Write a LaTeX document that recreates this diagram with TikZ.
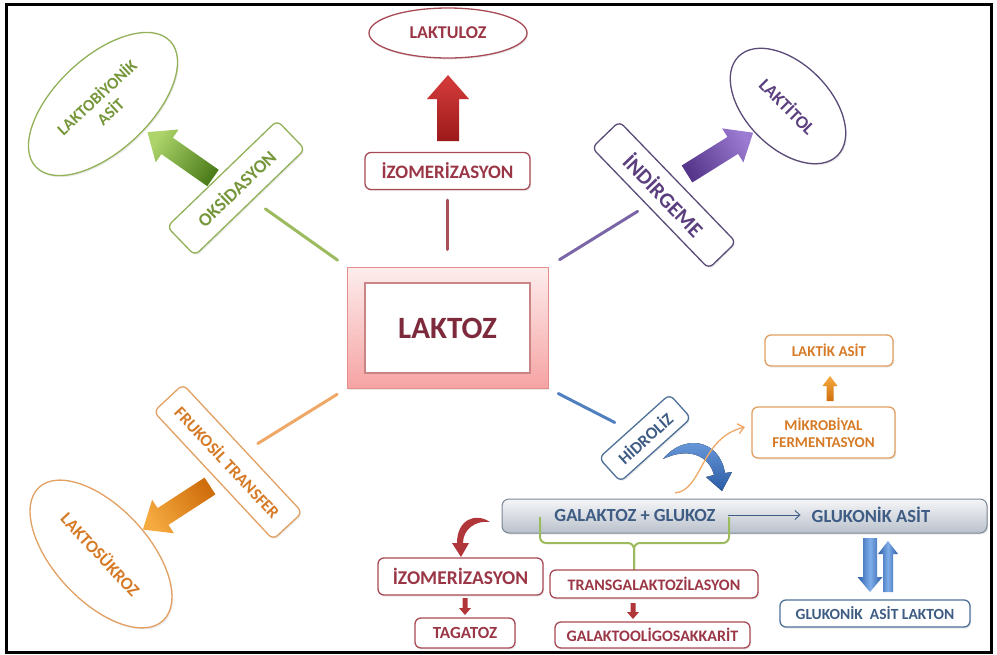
\documentclass[tikz,border=0pt]{standalone}
\usepackage{fontspec}
\setmainfont{Carlito}
\usetikzlibrary{shapes.geometric,arrows.meta,calc,shadows}
\definecolor{marb}{HTML}{A84A55}\definecolor{mart}{HTML}{9A3646}\definecolor{marl}{HTML}{A8505A}
\definecolor{redh}{HTML}{D63C3C}\definecolor{redd}{HTML}{9C1A1A}\definecolor{redc}{HTML}{B0363A}
\definecolor{grnb}{HTML}{92B158}\definecolor{grnt}{HTML}{76963A}\definecolor{grnl}{HTML}{9CBB5E}
\definecolor{grnh}{HTML}{ACD46A}\definecolor{grnd}{HTML}{4E7E1C}
\definecolor{purb}{HTML}{5B4B78}\definecolor{purt}{HTML}{5C3F7E}\definecolor{purl}{HTML}{7A66A6}
\definecolor{purh}{HTML}{9C7CD2}\definecolor{purd}{HTML}{56368A}
\definecolor{orb}{HTML}{E2A062}\definecolor{ort}{HTML}{D67A26}\definecolor{orl}{HTML}{F0A868}
\definecolor{orh}{HTML}{F5AA40}\definecolor{ord}{HTML}{CF6E0C}
\definecolor{blb}{HTML}{4E7099}\definecolor{blt}{HTML}{3E5C84}\definecolor{bll}{HTML}{5080BF}
\definecolor{blc}{HTML}{3B70B8}\definecolor{bld}{HTML}{2A5CA6}\definecolor{blm}{HTML}{80AEEA}
\definecolor{barb}{HTML}{7A8696}\definecolor{bart}{HTML}{F5F6F8}\definecolor{barbt}{HTML}{BAC1CB}
\definecolor{lkb}{HTML}{E58C8C}\definecolor{lkt}{HTML}{FDEDED}\definecolor{lkbt}{HTML}{F6A3A3}
\definecolor{lkin}{HTML}{C98585}\definecolor{lktxt}{HTML}{7D2B3C}
\newcommand\fsz[1]{\fontsize{#1}{\fpeval{1.2*#1}}\selectfont\bfseries}
\newcommand\bpt[3]{\coordinate (#1) at ({\baX+(#2)*cos(\baA)+(#3)*sin(\baA)},{\baY-(#2)*sin(\baA)+(#3)*cos(\baA)});}
\newcommand\barrow[8]{\def\baX{#1}\def\baY{#2}\def\baA{#3}%
\bpt{ba1}{0}{-#5}\bpt{ba2}{#4-#7}{-#5}\bpt{ba3}{#4-#7}{-#6}\bpt{ba4}{#4}{0}\bpt{ba5}{#4-#7}{#6}\bpt{ba6}{#4-#7}{#5}\bpt{ba7}{0}{#5}%
\path[#8] (ba1)--(ba2)--(ba3)--(ba4)--(ba5)--(ba6)--(ba7)--cycle;}
\begin{document}
\begin{tikzpicture}[x=1pt,y=-1pt,
  shad/.style={drop shadow={opacity=0.16, shadow xshift=1.2pt, shadow yshift=-1.6pt}},
  rbox/.style={draw, rounded corners=6pt, fill=white, line width=1.3pt, inner sep=0pt, align=center, shad},
  ell/.style={ellipse, draw, fill=white, line width=1.3pt, inner sep=0pt, align=center, shad},
  conn/.style={line width=3pt, line cap=round}]
\useasboundingbox (0,0) rectangle (997,654);
\fill[white] (0,0) rectangle (997,654);
\draw[line width=3pt] (6,4) rectangle (991.5,652);

% center
\node[draw=lkb, line width=1pt, top color=lkt, bottom color=lkbt, minimum width=201pt, minimum height=121pt, shad] (laktoz) at (447.5,327.5) {};
\node[draw=lkin, line width=1.2pt, fill=white, minimum width=165pt, minimum height=90pt, text=lktxt, font=\fsz{31}] (laktozin) at (447.5,328) {LAKTOZ};

% top branch
\node[ell, draw=marb, minimum width=158pt, minimum height=50pt, text=mart, font=\fsz{18}] (laktuloz) at (448,33) {LAKTULOZ};
\node[rbox, draw=marb, text=mart, minimum width=165pt, minimum height=37pt, font=\fsz{19}] (izo1) at (447.5,171) {İZOMERİZASYON};
\draw[conn, draw=marl, shorten <=29pt, shorten >=17pt] (izo1.center) -- (laktoz.north);
\barrow{448}{141}{90}{66}{11}{21}{24}{top color=redh, bottom color=redd}

% green branch
\node[rbox, draw=grnb, text=grnt, rotate=44, minimum width=153pt, minimum height=40pt, font=\fsz{18.5}] (oks) at (236,188) {OKSİDASYON};
\draw[conn, draw=grnl, shorten <=36pt, shorten >=11pt] (oks.center) -- (laktoz.north west);
\node[ell, draw=grnb, rotate=43, minimum width=184pt, minimum height=94pt, text=grnt, font=\fsz{16.5}] (lbio) at (103,104) {LAKTOBİYONİK\\ASİT};
\barrow{213}{178}{145}{80}{10}{20}{24}{top color=grnh, bottom color=grnd, shading angle=55}

% purple branch
\node[rbox, draw=purb, text=purt, rotate=-46, minimum width=168pt, minimum height=38pt, font=\fsz{21.5}] (indir) at (664,195) {İNDİRGEME};
\draw[conn, draw=purl, shorten <=31pt, shorten >=13pt] (indir.center) -- (laktoz.north east);
\node[ell, draw=purb, rotate=-45, minimum width=140pt, minimum height=84pt, text=purt, font=\fsz{18}] (laktitol) at (788,106) {LAKTİTOL};
\barrow{687}{174}{32}{78}{10}{20}{24}{top color=purh, bottom color=purd, shading angle=-58}

% orange branch
\node[rbox, draw=orb, text=ort, rotate=-47, minimum width=175pt, minimum height=40pt, font=\fsz{17}] (fruk) at (228,462) {FRUKOSİL TRANSFER};
\draw[conn, draw=orl, shorten <=35pt, shorten >=11pt] (fruk.center) -- (laktoz.south west);
\node[ell, draw=orb, rotate=-47, minimum width=182pt, minimum height=94pt, text=ort, font=\fsz{17.5}] (laktosuk) at (101,554) {LAKTOSÜKROZ};
\barrow{210}{486}{213}{80}{10}{20}{24}{top color=orh, bottom color=ord, shading angle=123}

% blue branch
\node[rbox, draw=blb, text=blt, rotate=42, minimum width=95pt, minimum height=32pt, font=\fsz{17}] (hidro) at (645,438) {HİDROLİZ};
\draw[conn, draw=bll, shorten <=34pt, shorten >=11pt] (hidro.center) -- (laktoz.south east);

% fermentation
\node[rbox, draw=orb, text=ort, minimum width=143pt, minimum height=51pt, font=\fsz{15}] (mikro) at (823.5,432.5) {MİKROBİYAL\\[-1pt]FERMENTASYON};
\node[rbox, draw=orb, text=ort, minimum width=128pt, minimum height=31pt, font=\fsz{15}] (laktik) at (829,350.5) {LAKTİK ASİT};
\barrow{830}{401}{90}{25}{3.5}{7.5}{10}{top color=orh, bottom color=ord}

% bar
\node[draw=barb, rounded corners=7pt, top color=bart, bottom color=barbt, line width=1pt, minimum width=485pt, minimum height=34pt, shad] (bar) at (744.5,516) {};
\node[text=blt, font=\fsz{18.5}, inner sep=0pt] (galglu) at (635,515) {GALAKTOZ + GLUKOZ};
\node[text=blt, font=\fsz{18.5}, inner sep=0pt] (glukasit) at (871,515) {GLUKONİK ASİT};
\draw[blt, line width=0.9pt, -{Straight Barb[length=5pt,width=9pt]}, shorten <=12pt, shorten >=11pt] (galglu.east) -- (glukasit.west);

% curved arrows
\coordinate (cb1) at (663,459);
\fill[top color=blm!80!blc, bottom color=bld] (cb1) .. controls (683,434) and (719,438) .. (725,473) -- (732,472) -- (722,491) -- (706,477) -- (714,475) .. controls (709,455) and (688,447) .. (cb1) -- cycle;
\coordinate (os1) at (675,493);
\coordinate (os2) at (745,427);
\draw[orl, line width=1.3pt, -{Straight Barb[length=6pt,width=10pt]}] (os1) .. controls (703,490) and (700,438) .. (os2);

% bracket
\coordinate (br1) at (540,517);
\coordinate (br2) at (729,517);
\coordinate (brm) at (634,543);
\coordinate (brs) at (634,570);
\draw[grnl, line width=2pt, rounded corners=6pt] (br1) -- (br1 |- brm) -- (brm) -- (brs);
\draw[grnl, line width=2pt, rounded corners=6pt] (br2) -- (br2 |- brm) -- (brm) -- (brs);

% lower boxes
\node[rbox, draw=marb, text=mart, minimum width=165pt, minimum height=37pt, font=\fsz{19.5}] (izo2) at (460.5,576.5) {İZOMERİZASYON};
\node[rbox, draw=marb, text=mart, minimum width=100pt, minimum height=30pt, font=\fsz{17}] (tagatoz) at (465,633) {TAGATOZ};
\node[rbox, draw=marb, text=mart, minimum width=208pt, minimum height=28pt, font=\fsz{16}] (transgal) at (654,584) {TRANSGALAKTOZİLASYON};
\node[rbox, draw=marb, text=mart, minimum width=195pt, minimum height=26pt, font=\fsz{16}] (galoligo) at (652.5,635) {GALAKTOOLİGOSAKKARİT};
\barrow{465}{598}{-90}{17}{2.5}{6}{7}{fill=redc}
\barrow{633}{603}{-90}{16}{2.5}{6}{7}{fill=redc}
\coordinate (rc1) at (490,522);
\fill[redc] (rc1) .. controls (475,512) and (457,520) .. (457,543) -- (452,543) -- (461,557) -- (469,543) -- (463,543) .. controls (463,529) and (476,520) .. (rc1) -- cycle;

% gluconic lactone
\node[rbox, draw=blb, text=blt, minimum width=190pt, minimum height=27pt, font=\fsz{15.5}] (gal) at (875,613.5) {GLUKONİK\ \ ASİT LAKTON};
\barrow{870}{538}{-90}{54}{7}{12.5}{15}{left color=bld, right color=bld, middle color=blm}
\barrow{888}{592}{90}{51}{5}{10}{13}{left color=bld, right color=bld, middle color=blm}
\end{tikzpicture}
\end{document}
